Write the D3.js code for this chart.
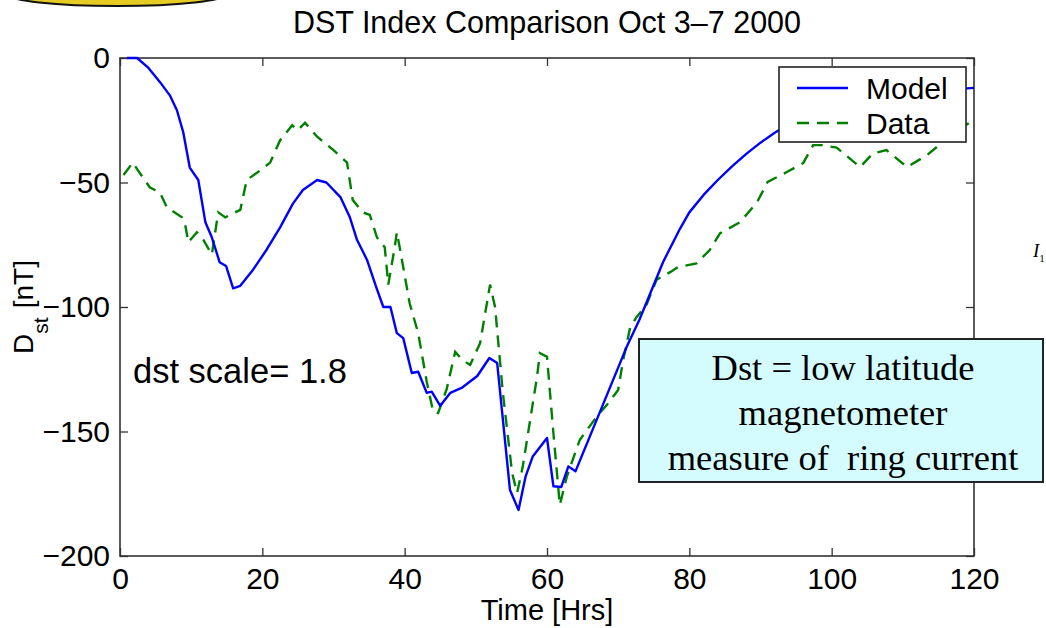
<!DOCTYPE html>
<html>
<head>
<meta charset="utf-8">
<script src="https://cdn.jsdelivr.net/npm/d3@7"></script>
<style>
  html, body { margin: 0; padding: 0; background: #fff; }
  svg { display: block; }
  text { font-family: "Liberation Sans", Arial, Helvetica, sans-serif; fill: #000; }
  text.serif { font-family: "Liberation Serif", "Times New Roman", serif; }
</style>
</head>
<body>
<svg id="chart" width="1046" height="628"></svg>
<script>
// ---------- data ----------
const title = "DST Index Comparison Oct 3\u20137 2000";
const xLabel = "Time [Hrs]";
const seriesNames = ["Model", "Data"];
const xTicks = [0, 20, 40, 60, 80, 100, 120];
const yTicks = [-200, -150, -100, -50, 0];
const annotation = "dst scale= 1.8";
const noteLines = ["Dst = low latitude", "magnetometer", "measure of  ring current"];

const modelTime = [1, 2.4, 4, 5.6, 7, 8, 8.9, 9.8, 11, 12, 12.9, 14, 14.9, 15.9, 16.9,
  18.7, 20.6, 22.5, 24.3, 25.7, 27.7, 29, 31, 32.3, 33.3, 34.7, 36, 37, 38, 38.9, 39.8,
  41, 41.9, 43.1, 43.8, 45, 46.4, 48, 50.2, 51.9, 53, 54.8, 56, 57, 58, 60, 60.9, 62, 63, 64,
  71.2, 73, 76.3, 78.7, 80, 82, 84, 86, 88, 90, 92, 94, 96, 100, 105, 110, 115, 120];
const modelDst = [0, 0, -4, -9.6, -15, -21, -30, -44, -49, -66, -72, -82, -83.5, -92.5, -91.5,
  -85, -77, -68, -58.5, -53, -49, -50, -56, -64, -73, -81, -92, -100, -100, -110.5, -112.5,
  -126.5, -126, -134.5, -134, -139.7, -134.5, -132.5, -127.7, -120.5, -122.5, -173.5, -181.5, -168, -160, -152.6, -172, -172.3, -164, -166,
  -116, -105, -82, -68.5, -62, -55, -49, -43.5, -38.5, -34, -30, -26.5, -23.5, -19, -16, -14, -13, -12];

const dataTime = [0.5, 1.8, 2.5, 4.2, 5.6, 6.6, 8.7, 9.1, 9.6, 10.8, 11.7, 12.9, 13.8, 14.8, 16.9,
  17.8, 19.3, 21.1, 22.5, 24.2, 25, 26, 27.7, 30, 31.9, 32.7, 34.1, 35.1, 36.1, 37.2, 37.7,
  38.6, 38.9, 39.3, 40.7, 41.9, 43.1, 44, 44.7, 45.9, 47.1, 48, 49.2, 50.6, 52, 52.7, 53.8,
  55.1, 55.8, 56.6, 58.6, 59, 60, 60.9, 61.8, 62.8, 64.6, 65.6, 67.4, 68.4, 70, 70.7, 71.7,
  72.6, 74, 75.4, 77.3, 78.4, 81, 82.9, 84.3, 87.1, 89.5, 91, 93.7, 96, 97.4, 98.6, 100.7,
  104, 105.8, 107.7, 110.6, 113.4, 114.8, 117, 120];
const dataDst = [-47, -42, -45, -52, -54, -60, -64, -66, -74, -70, -73, -79, -62, -64, -61,
  -49, -46, -42, -33, -27, -29, -26, -31.6, -37, -42, -57, -62, -63, -72, -76, -91,
  -76, -70, -76, -98.5, -110.5, -130, -142, -142.6, -133, -118, -121, -123.3, -114.5, -91, -100, -134.5,
  -166.7, -174.7, -164, -128, -118.5, -120, -150.7, -179.5, -168, -153.4, -149.4, -142.6, -139.4, -133.3, -121.3, -108,
  -104, -99, -89, -86, -84, -82.5, -77, -70.4, -66, -58, -49.8, -45.8, -42.2, -35, -35, -36,
  -43.8, -38.3, -37, -43.8, -39, -35.7, -30, -25];

// ---------- layout ----------
const svg = d3.select("#chart");
const pLeft = 120, pRight = 974, pTop = 58, pBottom = 556;
const x = d3.scaleLinear().domain([0, 120]).range([pLeft, pRight]);
const y = d3.scaleLinear().domain([-200, 0]).range([pBottom, pTop]);
const frameColor = "#333";

// decorative yellow shape at top-left (cut off by page edge)
svg.append("ellipse").attr("cx", 117).attr("cy", -6).attr("rx", 110).attr("ry", 12)
  .attr("fill", "#e6cc22").attr("stroke", "#111").attr("stroke-width", 2);

// plot background
svg.append("rect").attr("x", pLeft).attr("y", pTop).attr("width", pRight - pLeft).attr("height", pBottom - pTop)
  .attr("fill", "#fff");

// axes
const tickFont = 30;
const gx = svg.append("g").attr("transform", `translate(0,${pBottom})`)
  .call(d3.axisBottom(x).tickValues(xTicks).tickSizeInner(-8).tickSizeOuter(0).tickPadding(12).tickFormat(d3.format("d")));
const gxTop = svg.append("g").attr("transform", `translate(0,${pTop})`)
  .call(d3.axisTop(x).tickValues(xTicks).tickSizeInner(-8).tickSizeOuter(0).tickFormat(""));
const gy = svg.append("g").attr("transform", `translate(${pLeft},0)`)
  .call(d3.axisLeft(y).tickValues(yTicks).tickSizeInner(-8).tickSizeOuter(0).tickPadding(10).tickFormat(d3.format("d")));
const gyR = svg.append("g").attr("transform", `translate(${pRight},0)`)
  .call(d3.axisRight(y).tickValues(yTicks).tickSizeInner(-8).tickSizeOuter(0).tickFormat(""));
[gx, gxTop, gy, gyR].forEach(g => {
  g.select(".domain").remove();
  g.selectAll(".tick line").attr("stroke", frameColor).attr("stroke-width", 1.3);
  g.selectAll(".tick text").attr("font-size", tickFont).attr("fill", "#000");
});

// frame
svg.append("rect").attr("x", pLeft).attr("y", pTop).attr("width", pRight - pLeft).attr("height", pBottom - pTop)
  .attr("fill", "none").attr("stroke", frameColor).attr("stroke-width", 1.6);

// lines
svg.append("clipPath").attr("id", "clip").append("rect")
  .attr("x", pLeft).attr("y", pTop - 2).attr("width", pRight - pLeft).attr("height", pBottom - pTop + 4);
const line = d3.line().x(d => x(d[0])).y(d => y(d[1]));
const modelPts = modelTime.map((t, i) => [t, modelDst[i]]);
const dataPts = dataTime.map((t, i) => [t, dataDst[i]]);
const colors = ["#0000ff", "#008000"];
const dashes = [null, "12,8"];
svg.append("path").datum(dataPts).attr("d", line).attr("fill", "none")
  .attr("stroke", colors[1]).attr("stroke-width", 2.4).attr("stroke-dasharray", dashes[1])
  .attr("clip-path", "url(#clip)");
svg.append("path").datum(modelPts).attr("d", line).attr("fill", "none")
  .attr("stroke", colors[0]).attr("stroke-width", 2.4).attr("stroke-linejoin", "round")
  .attr("clip-path", "url(#clip)");

// title
svg.append("text").attr("x", (pLeft + pRight) / 2).attr("y", 33).attr("text-anchor", "middle")
  .attr("font-size", 30.5).text(title);

// x label
svg.append("text").attr("x", (pLeft + pRight) / 2).attr("y", 620).attr("text-anchor", "middle")
  .attr("font-size", 29).text(xLabel);

// y label (D_st [nT])
const yl = svg.append("text").attr("transform", `translate(33,${(pTop + pBottom) / 2}) rotate(-90)`)
  .attr("text-anchor", "middle").attr("font-size", 28);
yl.append("tspan").text("D");
yl.append("tspan").attr("font-size", 21).attr("dy", 15).text("st");
yl.append("tspan").attr("dy", -15).attr("dx", 9).text("[nT]");

// annotation
svg.append("text").attr("x", 133).attr("y", 383).attr("font-size", 34.5).text(annotation);

// legend
const lg = svg.append("g");
lg.append("rect").attr("x", 779).attr("y", 67).attr("width", 187).attr("height", 75)
  .attr("fill", "#fff").attr("stroke", "#222").attr("stroke-width", 1.6);
const legendRows = [88, 123];
seriesNames.forEach((name, i) => {
  lg.append("line").attr("x1", 797).attr("x2", 848).attr("y1", legendRows[i]).attr("y2", legendRows[i])
    .attr("stroke", colors[i]).attr("stroke-width", 2.4).attr("stroke-dasharray", dashes[i]);
  lg.append("text").attr("x", 866).attr("y", legendRows[i] + 11).attr("font-size", 30).text(name);
});

// note box
const nb = svg.append("g");
nb.append("rect").attr("x", 639).attr("y", 339).attr("width", 404).attr("height", 143)
  .attr("fill", "#d4fbfd").attr("stroke", "#222").attr("stroke-width", 2);
noteLines.forEach((t, i) => {
  nb.append("text").attr("class", "serif").attr("x", 843).attr("y", 380 + i * 45).attr("text-anchor", "middle")
    .attr("font-size", 36.5).style("white-space", "pre").text(t);
});

// cut-off text at right edge
const it = svg.append("text").attr("class", "serif").attr("x", 1033).attr("y", 257).attr("font-size", 19);
it.append("tspan").attr("font-style", "italic").text("I");
it.append("tspan").attr("font-size", 11).attr("dy", 5).text("1");
</script>
</body>
</html>
